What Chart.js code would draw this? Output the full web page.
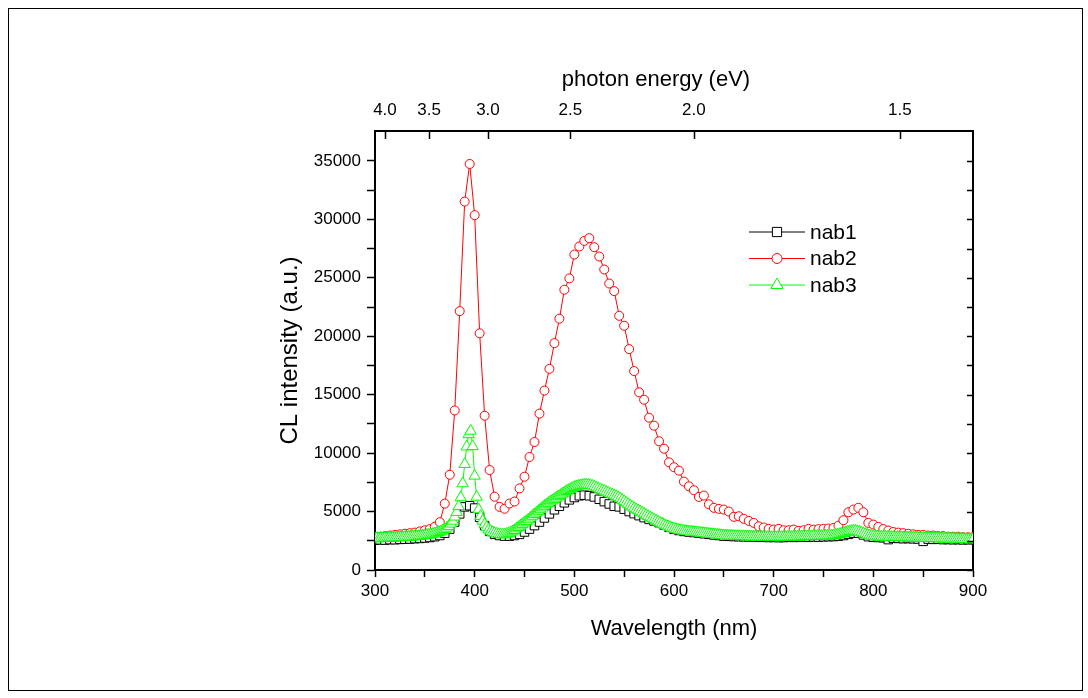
<!DOCTYPE html>
<html lang="en">
<head>
<meta charset="UTF-8">
<title>CL spectra nab1 - nab3</title>
<style>
  body { margin: 0; background: #fff; }
  .frame {
    position: absolute; left: 8px; top: 8px;
    width: 1075px; height: 683px;
    border: 1px solid #000; box-sizing: border-box;
  }
  #wrap { position: absolute; left: 0; top: 0; }
</style>
</head>
<body>
<div class="frame"></div>
<div id="wrap"><canvas id="cl" width="1088" height="698"></canvas></div>

<script src="https://cdn.jsdelivr.net/npm/chart.js"></script>
<script>
// sampling grids (nm)
const wl5 = [];
for (let w = 300; w <= 900; w += 5) wl5.push(w);
const wl2 = [];
for (let w = 300; w <= 900; w += 2) wl2.push(w);

// nab1, every 5 nm
const nab1 = [
  2550, 2580, 2560, 2600, 2590, 2620, 2630, 2650, 2680, 2700, 2740, 2780, 2850,
  2950, 3150, 3500, 4100, 4800, 5400, 5500, 5300, 4500, 3800, 3300, 3050,
  2950, 2900, 2900, 2950, 3050, 3250, 3500, 3800, 4100, 4450, 4800, 5150,
  5450, 5750, 6000, 6200, 6350, 6400, 6350, 6250, 6050, 5850, 5650, 5450,
  5400, 5200, 5000, 4820, 4650, 4480, 4330, 4190, 4050, 3850, 3650, 3480,
  3380, 3300, 3250, 3200, 3150, 3100, 3050, 3000, 2950, 2900, 2880, 2860,
  2850, 2840, 2820, 2830, 2800, 2800, 2780, 2790, 2770, 2780, 2800, 2790,
  2800, 2810, 2800, 2830, 2820, 2840, 2850, 2860, 2900, 2950, 3050, 3150,
  3150, 3000, 2850, 2800, 2780, 2760, 2600, 2720, 2700, 2680, 2690, 2670,
  2650, 2450, 2640, 2620, 2630, 2600, 2610, 2590, 2600, 2580, 2590, 2600
];

// nab2, every 5 nm
const nab2 = [
  2800, 2850, 2900, 2950, 3000, 3050, 3100, 3150, 3200, 3300, 3400, 3500, 3700,
  4090, 5680, 8150, 13650, 22150, 31520, 34740, 30360, 20250, 13200, 8550, 6270,
  5400, 5240, 5690, 5860, 6980, 7980, 9670, 10950, 13380, 15350, 17210, 19410,
  21500, 23980, 24950, 26990, 27680, 28160, 28390, 27620, 26820, 25710, 24510, 23860,
  21750, 20900, 18900, 17020, 15200, 14570, 13030, 12350, 11010, 10380, 9210, 8790,
  8500, 7560, 7160, 6820, 6250, 6370, 5620, 5320, 5230, 5170, 5000, 4550,
  4600, 4380, 4200, 4030, 3740, 3630, 3520, 3460, 3520, 3400, 3400, 3460,
  3350, 3400, 3520, 3450, 3500, 3520, 3550, 3600, 3800, 4260, 4940, 5170,
  5320, 4940, 4030, 3890, 3690, 3500, 3380, 3250, 3200, 3150, 3100, 3050,
  3000, 3000, 2950, 2950, 2900, 2900, 2850, 2850, 2850, 2800, 2800, 2800
];

// nab3, every 2 nm
const nab3 = [
  2700, 2720, 2690, 2730, 2710, 2740, 2720, 2760, 2740, 2770, 2760, 2790, 2780, 2800, 2790, 2820, 2810, 2840, 2830, 2860, 2870,
  2880, 2900, 2920, 2940, 2960, 2990, 3010, 3040, 3080, 3120, 3170, 3230, 3300, 3380, 3480, 3600, 3750, 3950, 4200, 4550, 4950, 5450,
  6200, 7400, 9050, 10550, 11600, 11900, 10580, 8050, 6250, 5170, 4600, 4200, 3900, 3650, 3450, 3320, 3230, 3160, 3100, 3060, 3040, 3030, 3040,
  3080, 3130, 3200, 3290, 3400, 3540, 3660, 3790, 3920, 4050, 4170, 4320, 4470, 4620, 4760, 4890, 5040, 5180, 5330, 5470,
  5600, 5720, 5840, 5950, 6060, 6170, 6290, 6400, 6510, 6620, 6740, 6830, 6920, 7000, 7080,
  7140, 7190, 7230, 7260, 7280, 7300, 7280, 7250, 7200, 7130, 7050, 6980, 6900, 6820, 6750, 6680, 6600, 6520, 6450, 6380,
  6310, 6220, 6110, 5990, 5870, 5750, 5630, 5510, 5400, 5290,
  5180, 5090, 5000, 4900, 4800, 4700, 4600, 4500, 4400, 4310, 4220, 4130, 4040, 3950, 3870, 3790, 3720, 3650, 3590, 3530,
  3480, 3440, 3400, 3370, 3340, 3320, 3300, 3280, 3260, 3240, 3220, 3200, 3180, 3160, 3140, 3120, 3100, 3080, 3060, 3040,
  3020, 3000, 2980, 2960, 2950, 2940, 2930, 2920, 2910, 2900, 2890, 2900, 2880, 2870, 2880, 2860, 2870, 2850, 2860, 2840,
  2850, 2830, 2840, 2820, 2830, 2810, 2820, 2800, 2810, 2800,
  2790, 2810, 2800, 2820, 2810, 2830, 2820, 2840, 2830, 2850, 2840, 2860, 2850, 2870, 2860, 2880, 2870, 2890, 2880, 2900,
  2890, 2910, 2900, 2920, 2910, 2930, 2920, 2940, 2940, 2960,
  2990, 3020, 3060, 3100, 3150, 3200, 3250, 3300, 3330, 3350, 3340, 3310, 3260, 3200, 3130, 3060, 3000, 2950, 2910, 2880,
  2850, 2860, 2840, 2850, 2830, 2840, 2820, 2830, 2810, 2820, 2800, 2810, 2790, 2800, 2780, 2790, 2770, 2780, 2760, 2770,
  2750, 2760, 2740, 2750, 2730, 2740, 2720, 2730, 2710, 2720, 2700, 2710, 2690, 2700, 2680, 2690, 2670, 2680, 2660, 2670,
  2650, 2660, 2640, 2650, 2630, 2640, 2620, 2630, 2610, 2620
];

const wlTicks = [300, 350, 400, 450, 500, 550, 600, 650, 700, 750, 800, 850, 900];
const yTicks = [0, 2500, 5000, 7500, 10000, 12500, 15000, 17500, 20000, 22500, 25000, 27500, 30000, 32500, 35000];
const energyTicks = [4.0, 3.5, 3.0, 2.5, 2.0, 1.5];

const toPts = (xs, ys) => xs.map((x, i) => ({ x: x, y: ys[i] }));

const FONT = '"Liberation Sans", Arial, sans-serif';
Chart.defaults.font.family = FONT;
Chart.defaults.color = '#000';

// ticks that point into the plot on the top and right sides, plus the top title
const innerTicks = {
  id: 'innerTicks',
  afterDraw(chart) {
    const { ctx, chartArea: a, scales } = chart;
    ctx.save();
    ctx.strokeStyle = '#000';
    ctx.lineWidth = 1.5;
    ctx.beginPath();
    scales.x2.ticks.forEach(t => {
      const px = Math.round(scales.x2.getPixelForValue(t.value)) + 0.5;
      ctx.moveTo(px, a.top);
      ctx.lineTo(px, a.top + 8);
    });
    scales.y.ticks.forEach(t => {
      const py = Math.round(scales.y.getPixelForValue(t.value)) + 0.5;
      ctx.moveTo(a.right, py);
      ctx.lineTo(a.right - 6, py);
    });
    ctx.stroke();

    // top axis title sits a little left of centre in the original
    ctx.fillStyle = '#000';
    ctx.font = '22px ' + FONT;
    ctx.textAlign = 'center';
    ctx.textBaseline = 'middle';
    ctx.fillText('photon energy (eV)', a.left + 281, a.top - 51);
    ctx.restore();
  }
};

// legend box inside the plot
const insideLegend = {
  id: 'insideLegend',
  afterDraw(chart) {
    const { ctx, chartArea: a } = chart;
    const x0 = a.left + 374, x1 = x0 + 56, y0 = a.top + 101, gap = 26.5;
    ctx.save();
    chart.data.datasets.forEach((ds, i) => {
      const y = y0 + i * gap;
      ctx.strokeStyle = ds.borderColor;
      ctx.lineWidth = 1;
      ctx.beginPath();
      ctx.moveTo(x0, y);
      ctx.lineTo(x1, y);
      ctx.stroke();
      ctx.fillStyle = ds.pointBackgroundColor;
      ctx.strokeStyle = ds.pointBorderColor;
      Chart.helpers.drawPoint(ctx, {
        pointStyle: ds.pointStyle, radius: ds.pointRadius + 0.5, rotation: 0, borderWidth: 1
      }, (x0 + x1) / 2, y);
      ctx.fillStyle = '#000';
      ctx.font = '21px ' + FONT;
      ctx.textBaseline = 'middle';
      ctx.fillText(ds.label, x1 + 5, y + 1);
    });
    ctx.restore();
  }
};

new Chart(document.getElementById('cl'), {
  type: 'line',
  data: {
    datasets: [
      {
        label: 'nab1', data: toPts(wl5, nab1),
        borderColor: '#000000', borderWidth: 1,
        pointStyle: 'rect', pointRadius: 6,
        pointBorderColor: '#000000', pointBackgroundColor: '#ffffff', pointBorderWidth: 1,
        order: 3
      },
      {
        label: 'nab2', data: toPts(wl5, nab2),
        borderColor: '#ff0000', borderWidth: 1,
        pointStyle: 'circle', pointRadius: 4.5,
        pointBorderColor: '#ff0000', pointBackgroundColor: '#ffffff', pointBorderWidth: 1,
        order: 2
      },
      {
        label: 'nab3', data: toPts(wl2, nab3),
        borderColor: '#00ff00', borderWidth: 1,
        pointStyle: 'triangle', pointRadius: 6.5,
        pointBorderColor: '#00ff00', pointBackgroundColor: '#ffffff', pointBorderWidth: 1,
        order: 1
      }
    ]
  },
  options: {
    responsive: false,
    animation: false,
    layout: { padding: { left: 272, right: 115, top: 63, bottom: 52 } },
    plugins: { legend: { display: false }, tooltip: { enabled: false } },
    scales: {
      x: {
        type: 'linear', position: 'bottom', min: 300, max: 900,
        afterBuildTicks: s => { s.ticks = wlTicks.map(v => ({ value: v })); },
        afterFit: s => { s.height = 76; },
        ticks: {
          callback: v => (v % 100 === 0 ? v : ''),
          font: { size: 17 }, padding: 4, maxRotation: 0, autoSkip: false
        },
        grid: { drawOnChartArea: false, tickLength: 7, color: '#000', tickWidth: 1.5 },
        border: { color: '#000', width: 2 },
        title: { display: true, text: 'Wavelength (nm)', font: { size: 22 } }
      },
      x2: {
        type: 'linear', position: 'top', min: 300, max: 900,
        afterBuildTicks: s => { s.ticks = energyTicks.map(e => ({ value: 1240 / e })); },
        afterFit: s => { s.height = 68; },
        ticks: {
          callback: v => (1240 / v).toFixed(1),
          font: { size: 17 }, padding: 10, maxRotation: 0, autoSkip: false
        },
        grid: { drawOnChartArea: false, drawTicks: false },
        border: { color: '#000', width: 2 },
        title: { display: false }
      },
      y: {
        position: 'left', min: 0, max: 37560,
        afterBuildTicks: s => { s.ticks = yTicks.map(v => ({ value: v })); },
        afterFit: s => { s.width = 103; },
        ticks: { callback: v => (v % 5000 === 0 ? v : ''), font: { size: 17 }, padding: 6 },
        grid: { drawOnChartArea: false, tickLength: 8, color: '#000', tickWidth: 1.5 },
        border: { color: '#000', width: 2 },
        title: { display: true, text: 'CL intensity (a.u.)', font: { size: 24 } }
      },
      y2: {
        position: 'right', min: 0, max: 37560,
        afterFit: s => { s.width = 0; },
        ticks: { display: false },
        grid: { drawOnChartArea: false, drawTicks: false },
        border: { color: '#000', width: 2 }
      }
    }
  },
  plugins: [innerTicks, insideLegend]
});
</script>
</body>
</html>
